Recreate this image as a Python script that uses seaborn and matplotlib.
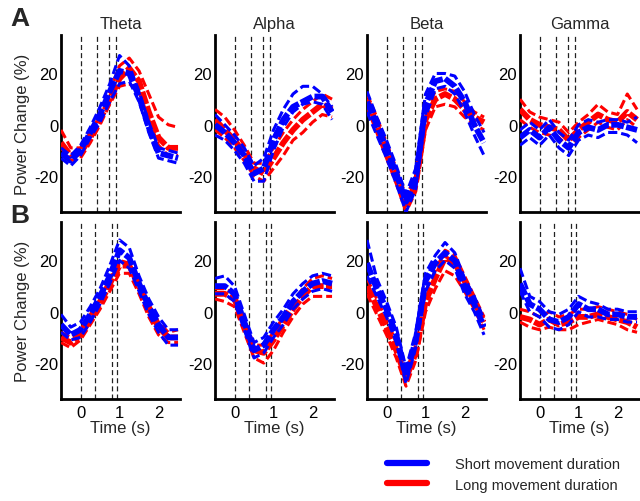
import numpy as np
import pandas as pd
import seaborn as sns
import matplotlib.pyplot as plt
from matplotlib.lines import Line2D

sns.set_style("white")
plt.rcParams['font.family'] = ['Liberation Sans', 'DejaVu Sans']
plt.rcParams['axes.unicode_minus'] = False

# ---- data -------------------------------------------------------------
time = [-0.5, -0.25, 0, 0.25, 0.5, 0.75, 1.0, 1.25, 1.5, 1.75, 2.0, 2.25, 2.5]
bands = ["Theta", "Alpha", "Beta", "Gamma"]
groups = ["Long movement duration", "Short movement duration"]
colors = {"Short movement duration": "#0000ff", "Long movement duration": "#ff0000"}
kinds = ["mean", "upper", "lower"]

# event markers (s)
events_A = [0, 0.41, 0.74, 0.90]
events_B = [0, 0.38, 0.80, 0.93]

# Row A traces (mean, upper, lower per condition)
A_theta_short = [[-11, -14, -10, -3, 4, 13, 21, 20, 11, -1, -11, -12, -13],
                 [-9, -12, -8, -1, 7, 16, 27, 23, 13, 1, -9, -10, -11],
                 [-13, -16, -12, -5, 1, 9, 16, 17, 9, -3, -13, -14, -15]]
A_theta_long = [[-7, -12, -11, -5, 2, 10, 18, 22, 17, 5, -5, -9, -9],
                [-2, -9, -9, -3, 4, 13, 23, 26, 21, 12, 3, 0, -1],
                [-9, -14, -13, -7, 0, 8, 15, 16, 13, 2, -8, -12, -12]]
A_alpha_short = [[0, -3, -7, -12, -19, -17, -6, 2, 7, 9, 11, 11, 5],
                 [4, 0, -4, -9, -16, -13, -2, 6, 12, 15, 15, 12, 7],
                 [-4, -6, -10, -15, -22, -22, -10, -1, 5, 8, 9, 8, 2]]
A_alpha_long = [[2, -2, -6, -11, -17, -19, -13, -7, -2, 2, 5, 8, 6],
                [6, 3, -2, -8, -15, -15, -9, -3, 2, 6, 9, 12, 10],
                [-2, -5, -9, -14, -20, -22, -17, -12, -6, -3, 1, 4, 3]]
A_beta_short = [[9, 0, -9, -19, -30, -21, 8, 17, 18, 15, 9, 0, -7],
                [13, 3, -6, -16, -27, -17, 12, 20, 20, 19, 13, 4, -3],
                [5, -4, -13, -23, -34, -25, 3, 14, 15, 12, 5, -4, -12]]
A_beta_long = [[10, 0, -10, -20, -31, -23, 2, 10, 12, 10, 6, 3, 1],
               [12, 3, -7, -17, -28, -20, 6, 13, 14, 13, 9, 5, 3],
               [7, -3, -13, -23, -34, -26, -2, 7, 8, 7, 3, 0, -2]]
A_gamma_short = [[-5, -2, -5, -1, -6, -9, -3, -1, -2, 0, 0, -1, -2],
                 [-2, 1, -2, 2, -3, -6, 0, 2, 1, 2, 2, 1, 3],
                 [-8, -5, -8, -4, -9, -12, -6, -4, -5, -3, -3, -4, -7]]
A_gamma_long = [[6, 2, 0, -1, -2, -6, -2, 1, 4, 2, 1, 5, 2],
                [10, 5, 3, 2, 1, -3, 1, 4, 8, 5, 4, 12, 6],
                [2, -1, -3, -4, -5, -9, -5, -2, 1, -1, -2, 2, -1]]

# Row B traces
B_theta_short = [[-5, -9, -7, -1, 6, 14, 24, 21, 11, 2, -5, -10, -10],
                 [-1, -6, -4, 2, 9, 18, 28, 25, 14, 5, -2, -7, -7],
                 [-8, -11, -10, -4, 3, 11, 20, 17, 8, -1, -8, -13, -13]]
B_theta_long = [[-10, -12, -9, -3, 3, 11, 18, 18, 10, 1, -6, -10, -10],
                [-8, -10, -7, -1, 5, 13, 20, 19, 12, 3, -4, -8, -7],
                [-12, -14, -11, -5, 1, 8, 15, 15, 7, -2, -9, -12, -12]]
B_alpha_short = [[10, 10, 7, -4, -15, -13, -7, -2, 4, 8, 11, 12, 11],
                 [13, 14, 10, -1, -12, -10, -4, 1, 7, 11, 14, 15, 14],
                 [7, 7, 4, -7, -18, -16, -10, -5, 1, 5, 8, 9, 8]]
B_alpha_long = [[7, 7, 5, -5, -15, -16, -11, -5, 1, 6, 10, 10, 10],
                [9, 9, 7, -3, -13, -13, -8, -2, 4, 9, 13, 14, 13],
                [5, 4, 2, -8, -18, -20, -15, -8, -2, 3, 6, 6, 6]]
B_beta_short = [[19, 9, 1, -9, -25, -11, 12, 19, 23, 20, 10, 3, -6],
                [28, 13, 4, -6, -22, -8, 15, 22, 27, 23, 13, 6, -3],
                [14, 6, -2, -12, -28, -14, 8, 16, 20, 17, 7, 0, -9]]
B_beta_long = [[10, 2, -6, -15, -26, -16, 4, 13, 21, 19, 12, 4, -4],
               [13, 5, -3, -12, -23, -13, 8, 16, 24, 22, 14, 6, -2],
               [7, -1, -9, -18, -29, -19, 0, 9, 16, 14, 8, 1, -7]]
B_gamma_short = [[11, 3, 1, -3, -4, -2, 3, 1, 1, -1, -1, -2, -2],
                 [17, 6, 4, 0, -1, 1, 6, 4, 3, 1, 1, 0, 0],
                 [8, 0, -2, -6, -7, -5, 0, -2, -2, -3, -3, -4, -4]]
B_gamma_long = [[-2, -3, -5, -3, -5, -4, -2, -2, -1, -2, -3, -4, -6],
                [1, 0, -2, 0, -2, -1, 1, 1, 2, 1, 0, -1, -3],
                [-4, -6, -7, -6, -7, -7, -5, -4, -3, -4, -5, -7, -8]]

x_ticks = [0, 1, 2]
y_ticks = [-20, 0, 20]

panels = {
    ("A", "Theta"): (A_theta_short, A_theta_long),
    ("A", "Alpha"): (A_alpha_short, A_alpha_long),
    ("A", "Beta"): (A_beta_short, A_beta_long),
    ("A", "Gamma"): (A_gamma_short, A_gamma_long),
    ("B", "Theta"): (B_theta_short, B_theta_long),
    ("B", "Alpha"): (B_alpha_short, B_alpha_long),
    ("B", "Beta"): (B_beta_short, B_beta_long),
    ("B", "Gamma"): (B_gamma_short, B_gamma_long),
}

rows = []
for (row, band), (short, long_) in panels.items():
    for gname, traces in (("Short movement duration", short), ("Long movement duration", long_)):
        for kind, tr in zip(kinds, traces):
            for t, v in zip(time, tr):
                rows.append(dict(row=row, band=band, group=gname, kind=kind, t=t, v=v))
df = pd.DataFrame(rows)

# ---- figure -----------------------------------------------------------
fig = plt.figure(figsize=(6.4, 5.02), dpi=100)
lefts = [61 / 640, 215 / 640, 367 / 640, 520 / 640]
width = 119 / 640
bottoms = {"A": 1 - 213 / 502, "B": 1 - 400 / 502}
height = 177 / 502
FS = 12

for row in ["A", "B"]:
    for j, band in enumerate(bands):
        ax = fig.add_axes([lefts[j], bottoms[row], width, height])
        ev = events_A if row == "A" else events_B
        for e in ev:
            ax.axvline(e, color="#222222", lw=0.9, ls=(0, (4, 2.5)), zorder=1)
        sub = df[(df.row == row) & (df.band == band)]
        sns.lineplot(data=sub, x="t", y="v", hue="group", hue_order=groups,
                     style="kind", style_order=kinds,
                     dashes={"mean": (2.2, 0.4), "upper": (3, 1.3), "lower": (3, 1.3)},
                     size="kind", size_order=kinds,
                     sizes={"mean": 4.2, "upper": 2.2, "lower": 2.2},
                     estimator=None, palette=colors, legend=False,
                     ax=ax, zorder=3)
        ax.set_xlim(-0.5, 2.55)
        ax.set_ylim(-34, 35)
        ax.set_xticks(x_ticks)
        ax.set_yticks(y_ticks)
        ax.tick_params(direction="in", length=3, width=1.2, labelsize=FS,
                       colors="black")
        ax.tick_params(axis="x", pad=4)
        ax.tick_params(axis="y", pad=2)
        for s in ["top", "right"]:
            ax.spines[s].set_visible(False)
        for s in ["left", "bottom"]:
            ax.spines[s].set_linewidth(2)
            ax.spines[s].set_color("black")
        ax.set_xlabel("")
        ax.set_ylabel("")
        if row == "A":
            ax.set_title(band, fontsize=FS, pad=5)
            ax.set_xticklabels([])
        else:
            ax.set_xlabel("Time (s)", fontsize=FS, labelpad=0)
        if j == 0:
            ax.set_ylabel("Power Change (%)", fontsize=FS, labelpad=3)

fig.text(20 / 640, 1 - 19 / 502, "A", fontsize=19, fontweight="bold",
         ha="center", va="center")
fig.text(20 / 640, 1 - 216 / 502, "B", fontsize=19, fontweight="bold",
         ha="center", va="center")

handles = [Line2D([], [], color=colors["Short movement duration"], lw=4.5),
           Line2D([], [], color=colors["Long movement duration"], lw=4.5)]
fig.legend(handles, ["Short movement duration", "Long movement duration"],
           loc="upper left", bbox_to_anchor=(387 / 640, 1 - 458 / 502),
           frameon=False, fontsize=10.5, handlelength=2.75, handletextpad=1.9,
           labelspacing=0.45, borderpad=0, borderaxespad=0)

fig.savefig("out.png", dpi=100)
